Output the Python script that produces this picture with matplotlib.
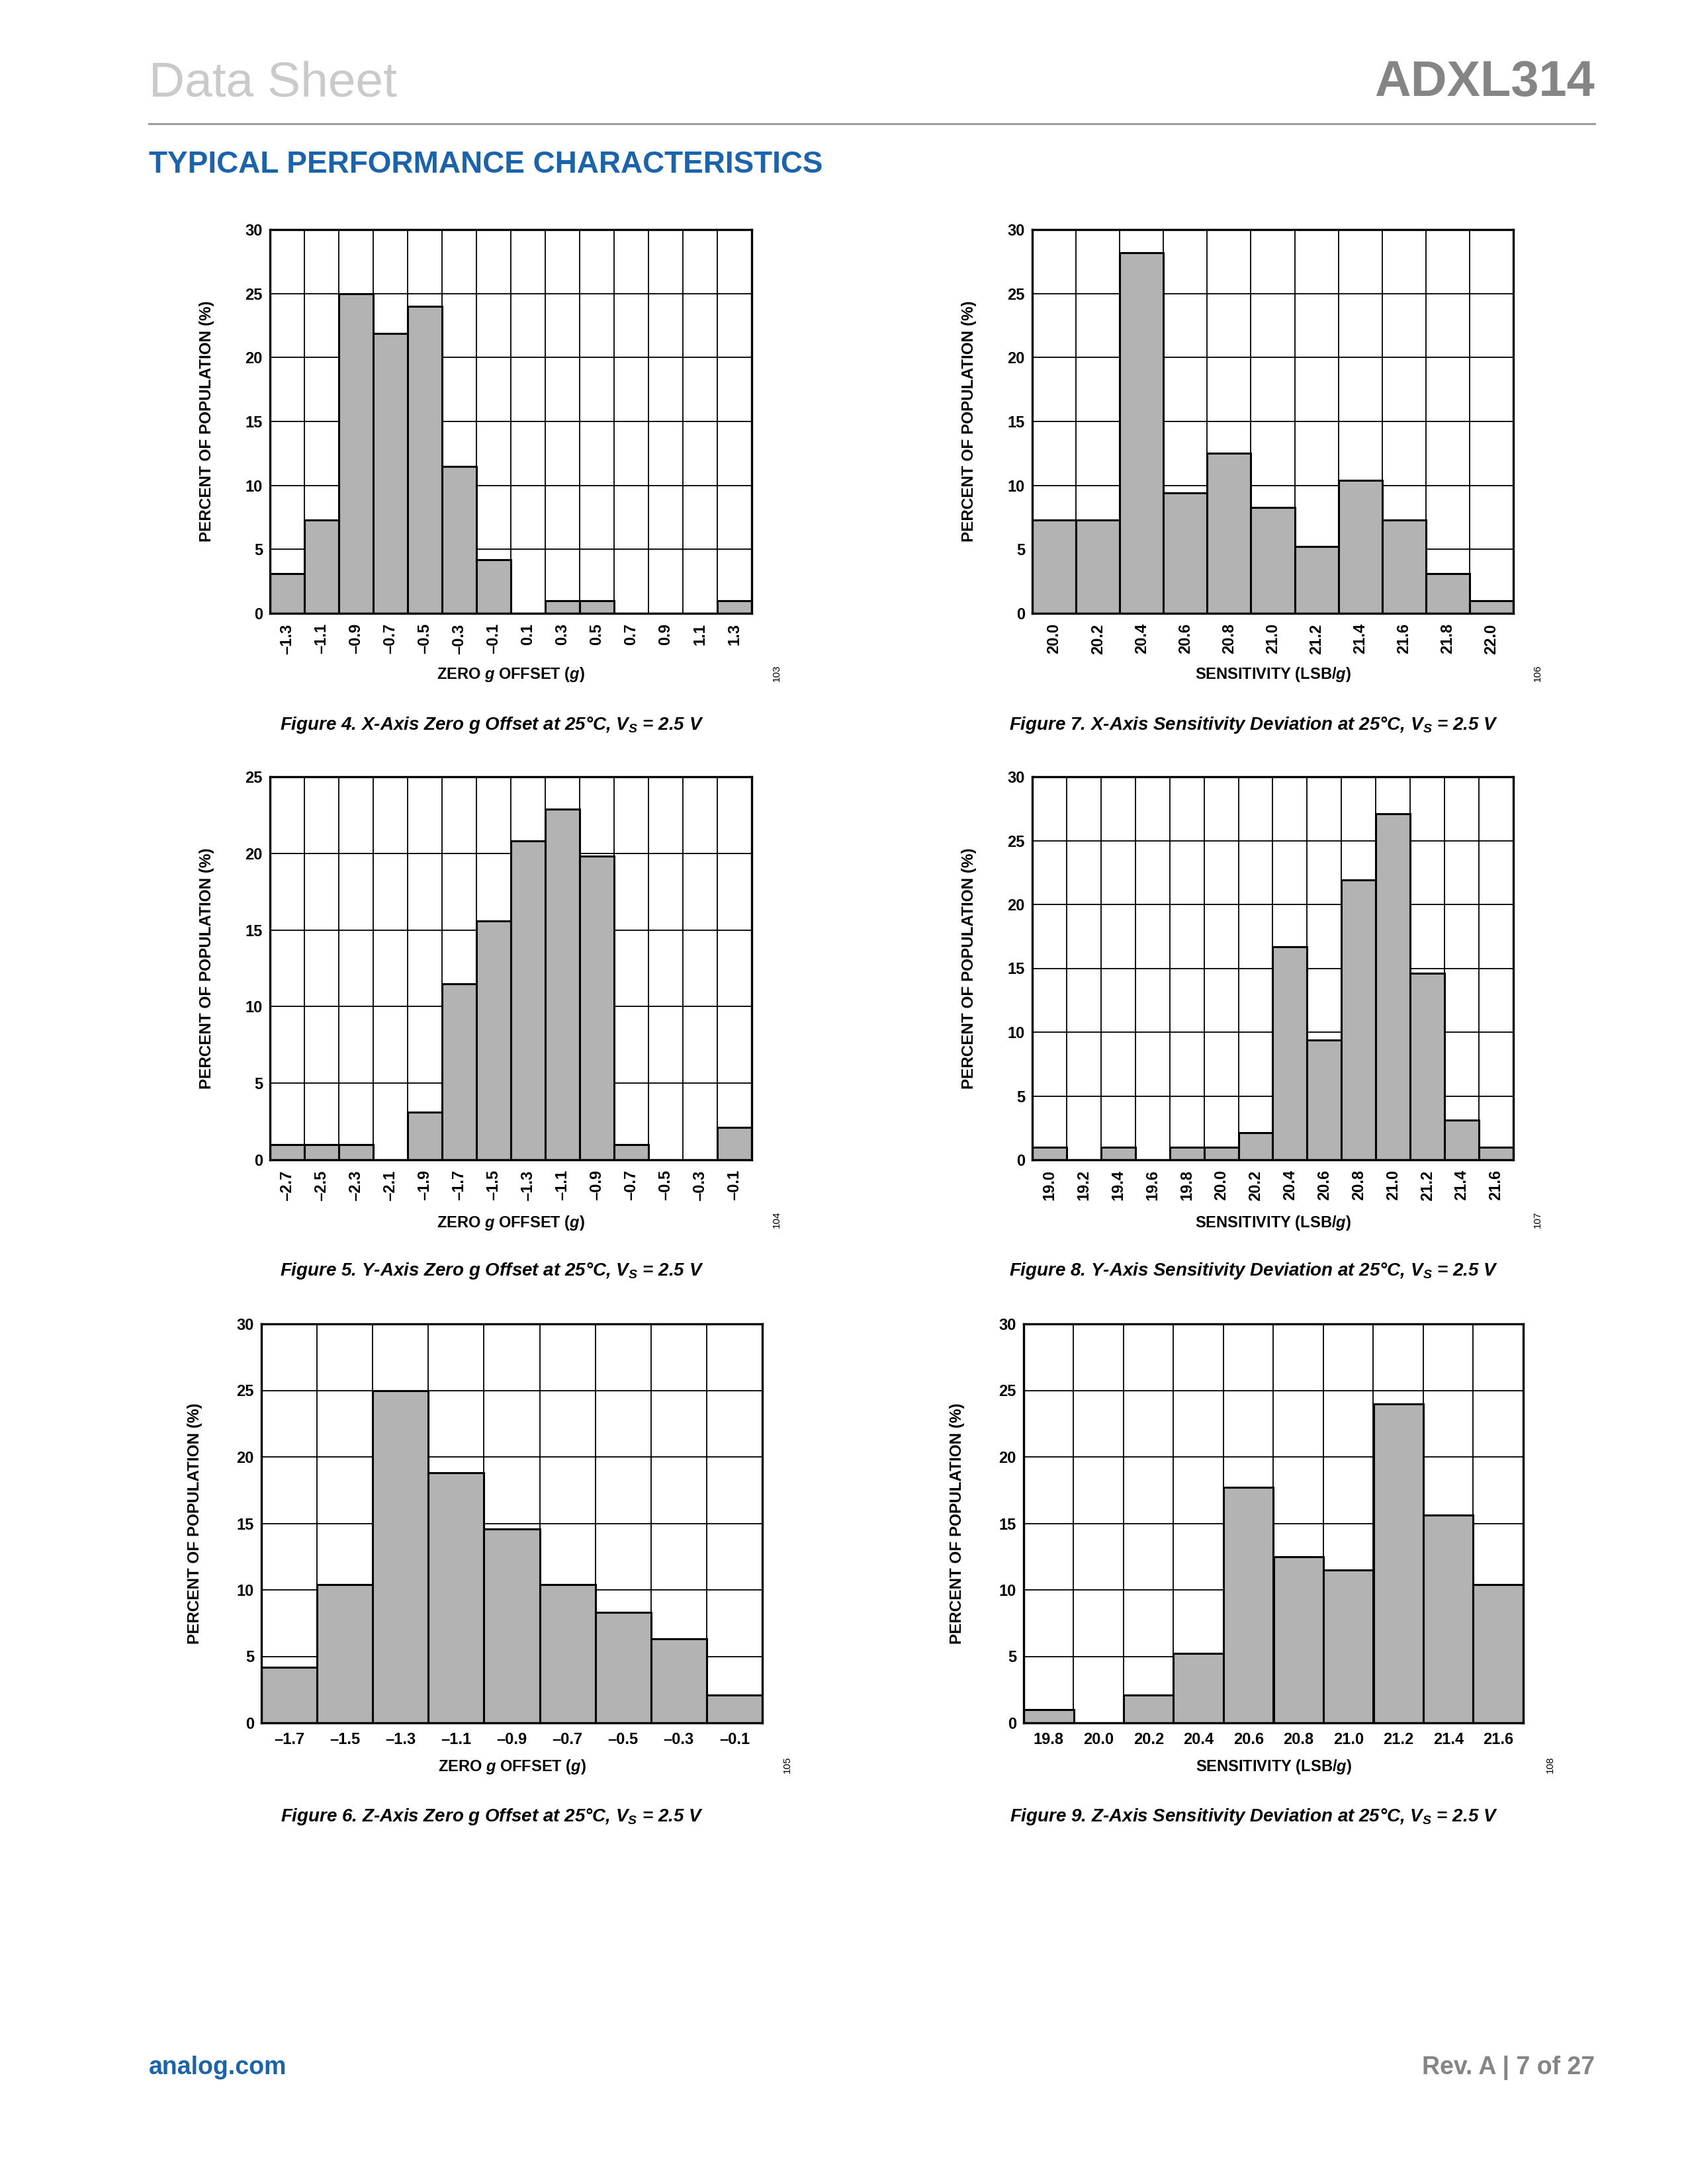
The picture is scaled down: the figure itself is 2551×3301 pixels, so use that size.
"""ADXL314 data sheet page 7: zero g offset and sensitivity histograms."""

import matplotlib

matplotlib.use("Agg")
import matplotlib.pyplot as plt
import numpy as np
from matplotlib import font_manager


W, H = 2551, 3301

BAR_GRAY = "#b3b3b3"
ADI_BLUE = "#1a63ad"
MID_GRAY = "#858585"
LIGHT_GRAY = "#cacaca"

# Figure 4: X-axis zero g offset
x_off_labels = ["–1.3", "–1.1", "–0.9", "–0.7", "–0.5", "–0.3", "–0.1",
                "0.1", "0.3", "0.5", "0.7", "0.9", "1.1", "1.3"]
x_off_pct = [3.1, 7.3, 25.0, 21.9, 24.0, 11.5, 4.2, 0, 1.0, 1.0, 0, 0, 0, 1.0]

# Figure 5: Y-axis zero g offset
y_off_labels = ["–2.7", "–2.5", "–2.3", "–2.1", "–1.9", "–1.7", "–1.5",
                "–1.3", "–1.1", "–0.9", "–0.7", "–0.5", "–0.3", "–0.1"]
y_off_pct = [1.0, 1.0, 1.0, 0, 3.1, 11.5, 15.6, 20.8, 22.9, 19.8, 1.0, 0, 0, 2.1]

# Figure 6: Z-axis zero g offset
z_off_labels = ["–1.7", "–1.5", "–1.3", "–1.1", "–0.9", "–0.7", "–0.5", "–0.3", "–0.1"]
z_off_pct = [4.2, 10.4, 25.0, 18.8, 14.6, 10.4, 8.3, 6.3, 2.1]

# Figure 7: X-axis sensitivity
x_sens_labels = ["20.0", "20.2", "20.4", "20.6", "20.8", "21.0",
                 "21.2", "21.4", "21.6", "21.8", "22.0"]
x_sens_pct = [7.3, 7.3, 28.2, 9.4, 12.5, 8.3, 5.2, 10.4, 7.3, 3.1, 1.0]

# Figure 8: Y-axis sensitivity
y_sens_labels = ["19.0", "19.2", "19.4", "19.6", "19.8", "20.0", "20.2",
                 "20.4", "20.6", "20.8", "21.0", "21.2", "21.4", "21.6"]
y_sens_pct = [1.0, 0, 1.0, 0, 1.0, 1.0, 2.1, 16.7, 9.4, 21.9, 27.1, 14.6, 3.1, 1.0]

# Figure 9: Z-axis sensitivity
z_sens_labels = ["19.8", "20.0", "20.2", "20.4", "20.6", "20.8",
                 "21.0", "21.2", "21.4", "21.6"]
z_sens_pct = [1.0, 0, 2.1, 5.2, 17.7, 12.5, 11.5, 24.0, 15.6, 10.4]

OFFSET_LABEL = r"ZERO $\mathit{g}$ OFFSET ($\mathit{g}$)"
SENS_LABEL = r"SENSITIVITY (LSB/$\mathit{g}$)"
CAPTION_TAIL = r" at 25°C, V$_\mathregular{S}$ = 2.5 V"

installed = {f.name for f in font_manager.fontManager.ttflist}
NARROW = "Liberation Sans Narrow" if "Liberation Sans Narrow" in installed else "Liberation Sans"
CAPTION_SIZE = 24 if NARROW == "Liberation Sans Narrow" else 20

plt.rcParams["font.family"] = ["Liberation Sans", "DejaVu Sans"]
plt.rcParams["mathtext.fontset"] = "custom"
plt.rcParams["mathtext.it"] = "Liberation Sans:italic:bold"
plt.rcParams["mathtext.rm"] = "Liberation Sans:bold"
plt.rcParams["mathtext.bf"] = "Liberation Sans:bold"


def fx(px):
    return px / W


def fy(py):
    return 1 - py / H


fig = plt.figure(figsize=(W / 100, H / 100), dpi=100)


def histogram(box, labels, values, ymax, xlabel, rotate, ylab_x, xlab_base,
              tag, tag_xy, caption, cap_xy):
    left, top, right, bottom = box
    ax = fig.add_axes([fx(left), fy(bottom), (right - left) / W, (bottom - top) / H])
    centers = np.array([float(s.replace("–", "-")) for s in labels])
    step = 0.2
    ax.set_axisbelow(True)
    ax.bar(centers, values, width=step, color=BAR_GRAY, edgecolor="black",
           linewidth=2.2, zorder=3)
    edges = np.append(centers - step / 2, centers[-1] + step / 2)
    ax.set_xlim(edges[0], edges[-1])
    ax.set_xticks(centers)
    ax.set_xticklabels(labels, rotation=90 if rotate else 0)
    ax.set_xticks(edges, minor=True)
    ax.set_ylim(0, ymax)
    ax.set_yticks(range(0, ymax + 1, 5))
    ax.grid(True, which="minor", axis="x", color="black", linewidth=1.3)
    ax.grid(True, which="major", axis="y", color="black", linewidth=1.3)
    ax.tick_params(which="both", length=0, labelsize=17)
    ax.tick_params(axis="x", pad=11 if rotate else 10)
    ax.tick_params(axis="y", pad=8)
    for lab in ax.get_xticklabels() + ax.get_yticklabels():
        lab.set_fontweight("bold")
    for sp in ax.spines.values():
        sp.set_linewidth(2.4)
        sp.set_zorder(4)

    ax.set_ylabel("PERCENT OF POPULATION (%)", fontsize=17.5, fontweight="bold")
    ax.yaxis.label.set_va("center")
    ax.yaxis.set_label_coords(fx(ylab_x), fy((top + bottom) / 2), transform=fig.transFigure)
    ax.set_xlabel(xlabel, fontsize=17, fontweight="bold")
    ax.xaxis.label.set_va("baseline")
    ax.xaxis.set_label_coords(fx((left + right) / 2), fy(xlab_base), transform=fig.transFigure)

    fig.text(fx(tag_xy[0]), fy(tag_xy[1]), tag, rotation=90, fontsize=11,
             ha="center", va="center")
    fig.text(fx(cap_xy[0]), fy(cap_xy[1]), caption, fontsize=CAPTION_SIZE,
             family=[NARROW, "Liberation Sans"], fontweight="bold", fontstyle="italic",
             ha="center", va="baseline")
    return ax


histogram((408, 347, 1136, 927), x_off_labels, x_off_pct, 30, OFFSET_LABEL, True,
          312, 1026, "103", (1174, 1017),
          "Figure 4. X-Axis Zero g Offset" + CAPTION_TAIL, (743, 1103))
histogram((1560, 347, 2287, 927), x_sens_labels, x_sens_pct, 30, SENS_LABEL, True,
          1464, 1026, "106", (2324, 1017),
          "Figure 7. X-Axis Sensitivity Deviation" + CAPTION_TAIL, (1895, 1103))
histogram((408, 1174, 1136, 1753), y_off_labels, y_off_pct, 25, OFFSET_LABEL, True,
          312, 1855, "104", (1174, 1843),
          "Figure 5. Y-Axis Zero g Offset" + CAPTION_TAIL, (743, 1928))
histogram((1560, 1174, 2287, 1753), y_sens_labels, y_sens_pct, 30, SENS_LABEL, True,
          1464, 1855, "107", (2324, 1843),
          "Figure 8. Y-Axis Sensitivity Deviation" + CAPTION_TAIL, (1895, 1928))
histogram((395, 2001, 1152, 2604), z_off_labels, z_off_pct, 30, OFFSET_LABEL, False,
          295, 2677, "105", (1190, 2667),
          "Figure 6. Z-Axis Zero g Offset" + CAPTION_TAIL, (743, 2753))
histogram((1547, 2001, 2302, 2604), z_sens_labels, z_sens_pct, 30, SENS_LABEL, False,
          1447, 2677, "108", (2343, 2667),
          "Figure 9. Z-Axis Sensitivity Deviation" + CAPTION_TAIL, (1895, 2753))

# page header and footer
fig.text(fx(225), fy(126), "Data Sheet", fontsize=54, color=LIGHT_GRAY, ha="left", va="center")
fig.text(fx(2410), fy(126), "ADXL314", fontsize=54.5, fontweight="bold", color=MID_GRAY,
         ha="right", va="center")
fig.add_artist(plt.Line2D([fx(225), fx(2410)], [fy(187), fy(187)], color="#9c9c9c",
                          linewidth=2.2, transform=fig.transFigure))
fig.text(fx(225), fy(249), "TYPICAL PERFORMANCE CHARACTERISTICS", fontsize=33,
         fontweight="bold", color=ADI_BLUE, ha="left", va="center")
fig.text(fx(225), fy(3125), "analog.com", fontsize=27, fontweight="bold", color=ADI_BLUE,
         ha="left", va="center")
fig.text(fx(2410), fy(3125), "Rev. A | 7 of 27", fontsize=27, fontweight="bold",
         color=MID_GRAY, ha="right", va="center")

fig.savefig("out.png", dpi=100, facecolor="white")
plt.close(fig)
